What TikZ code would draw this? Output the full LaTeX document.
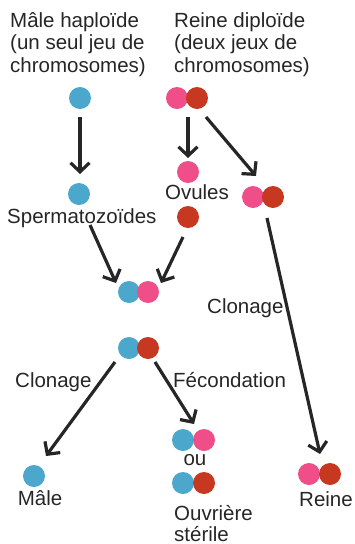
\documentclass[tikz,border=0pt]{standalone}
\usepackage{fontspec}
\setmainfont{Liberation Sans}
\usetikzlibrary{arrows.meta}
\definecolor{cblue}{HTML}{4BA7CB}
\definecolor{cpink}{HTML}{EF4E89}
\definecolor{cred}{HTML}{C6381F}
\definecolor{ink}{HTML}{262626}
\tikzset{
  lbl/.style={inner sep=0pt, text=ink, font=\fontsize{20.5}{22}\selectfont, anchor=base west},
  clbl/.style={lbl, anchor=base},
  dot/.style={circle, minimum size=22pt, inner sep=0pt},
  bdot/.style={dot, fill=cblue},
  pdot/.style={dot, fill=cpink},
  rdot/.style={dot, fill=cred},
  arr/.style={draw=ink, line width=3.2pt, -{Straight Barb[length=9pt,width=19pt]}}
}
\begin{document}
\begin{tikzpicture}[x=1pt,y=-1pt]
\useasboundingbox (0,0) rectangle (354,544);
% headers
\node[lbl] (h1a) at (10,27) {Mâle haploïde};
\node[lbl] (h1b) at (10,49.5) {(un seul jeu de};
\node[lbl] (h1c) at (10,72) {chromosomes)};
\node[lbl] (h2a) at (174,27) {Reine diploïde};
\node[lbl] (h2b) at (174,49.5) {(deux jeux de};
\node[lbl] (h2c) at (174,72) {chromosomes)};
% generation 0
\node[bdot] (m0) at (80,98) {};
\node[pdot] (q0p) at (177,98) {};
\node[rdot] (q0r) at (197,98) {};
% gametes
\node[bdot] (sp) at (79,194) {};
\node[lbl] (tsp) at (7,223) {Spermatozoïdes};
\node[pdot] (ovp) at (188,172) {};
\node[clbl] (tov) at (197,199) {Ovules};
\node[rdot] (ovr) at (188,217) {};
\node[pdot] (q1p) at (253,197) {};
\node[rdot] (q1r) at (273,197) {};
% zygotes
\node[bdot] (z1b) at (129,292) {};
\node[pdot] (z1p) at (148,292) {};
\node[bdot] (z2b) at (129,348) {};
\node[rdot] (z2r) at (148,348) {};
\node[lbl] (tcl1) at (207,313) {Clonage};
\node[lbl] (tcl2) at (15,387) {Clonage};
\node[lbl] (tfec) at (173,387) {Fécondation};
% offspring
\node[bdot] (mb) at (34,476) {};
\node[clbl] (tm) at (40,505) {Mâle};
\node[bdot] (w1b) at (183,440) {};
\node[pdot] (w1p) at (204,440) {};
\node[clbl] (tou) at (195,465) {ou};
\node[bdot] (w2b) at (183,483) {};
\node[rdot] (w2r) at (204,483) {};
\node[lbl] (tw1) at (174,520) {Ouvrière};
\node[lbl] (tw2) at (174,541) {stérile};
\node[pdot] (rqp) at (309,474) {};
\node[rdot] (rqr) at (330,474) {};
\node[clbl] (trq) at (326,506) {Reine};
% arrow endpoints
\coordinate (a1s) at (80,117);  \coordinate (a1e) at (80,174);
\coordinate (a2s) at (188,117); \coordinate (a2e) at (188,158);
\coordinate (a3s) at (206,117); \coordinate (a3e) at (256,176);
\coordinate (a4s) at (90,225);  \coordinate (a4e) at (116,283);
\coordinate (a5s) at (183,237); \coordinate (a5e) at (161,283);
\coordinate (a6s) at (267,218); \coordinate (a6e) at (320,454);
\coordinate (a7s) at (115,362); \coordinate (a7e) at (46,456);
\coordinate (a8s) at (155,362); \coordinate (a8e) at (194,424);
\draw[arr] (a1s) -- (a1e);
\draw[arr] (a2s) -- (a2e);
\draw[arr] (a3s) -- (a3e);
\draw[arr] (a4s) -- (a4e);
\draw[arr] (a5s) -- (a5e);
\draw[arr] (a6s) -- (a6e);
\draw[arr] (a7s) -- (a7e);
\draw[arr] (a8s) -- (a8e);
\end{tikzpicture}
\end{document}
